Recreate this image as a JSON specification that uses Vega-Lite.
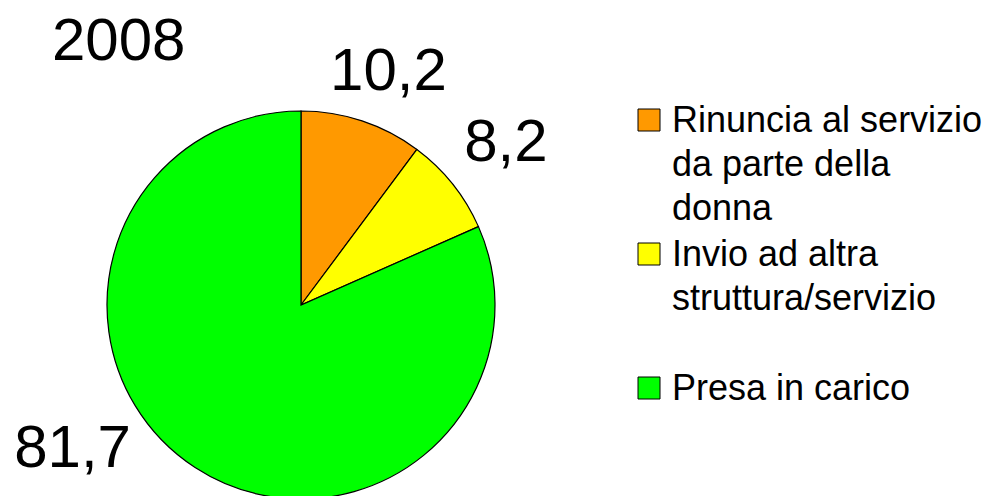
{
  "$schema": "https://vega.github.io/schema/vega-lite/v6.json",
  "width": 602,
  "height": 382,
  "autosize": {"type": "none"},
  "padding": {"left": 0, "top": 114, "right": 389, "bottom": 0},
  "background": "white",
  "title": {"text": "2008", "anchor": "start", "frame": "group", "font": "Liberation Sans", "fontSize": 60, "fontWeight": "normal", "color": "black", "baseline": "alphabetic", "offset": -92, "dx": 52},
  "data": {"values": [
    {"categoria": "Rinuncia al servizio da parte della donna", "valore": 10.2, "etichetta": "10,2", "ordine": 1},
    {"categoria": "Invio ad altra struttura/servizio", "valore": 8.2, "etichetta": "8,2", "ordine": 2},
    {"categoria": "Presa in carico", "valore": 81.7, "etichetta": "81,7", "ordine": 3}
  ]},
  "encoding": {
    "theta": {"field": "valore", "type": "quantitative", "stack": true},
    "order": {"field": "ordine", "type": "quantitative"}
  },
  "layer": [
    {
      "mark": {"type": "arc", "outerRadius": 194, "stroke": "black", "strokeWidth": 1.2},
      "encoding": {
        "color": {
          "field": "categoria", "type": "nominal",
          "scale": {"domain": ["Rinuncia al servizio da parte della donna", "Invio ad altra struttura/servizio", "Presa in carico"], "range": ["#FF9900", "#FFFF00", "#00FF00"]},
          "legend": {
            "orient": "none", "legendX": 631, "legendY": -12, "title": null,
            "symbolType": "square", "symbolSize": 484, "symbolStrokeColor": "black", "symbolStrokeWidth": 1, "symbolOpacity": 1,
            "labelFont": "Liberation Sans", "labelFontSize": 36, "labelColor": "black", "labelLimit": 0, "labelOffset": 5, "labelBaseline": "top",
            "rowPadding": 9, "padding": 0,
            "labelExpr": "datum.label == 'Rinuncia al servizio da parte della donna' ? ['Rinuncia al servizio', 'da parte della', 'donna'] : datum.label == 'Invio ad altra struttura/servizio' ? ['Invio ad altra', 'struttura/servizio', ''] : datum.label",
            "encode": {"labels": {"update": {"lineHeight": {"value": 44}, "dy": {"value": -16}}}}
          }
        }
      }
    },
    {
      "mark": {"type": "text", "radius": 249, "thetaOffset": 0.039, "font": "Liberation Sans", "fontSize": 60, "color": "black", "align": "center", "baseline": "middle"},
      "encoding": {"detail": {"field": "categoria"}, "text": {"condition": {"test": "datum.ordine == 1", "field": "etichetta"}, "value": ""}}
    },
    {
      "mark": {"type": "text", "radius": 261, "thetaOffset": 0.005, "font": "Liberation Sans", "fontSize": 60, "color": "black", "align": "center", "baseline": "middle"},
      "encoding": {"detail": {"field": "categoria"}, "text": {"condition": {"test": "datum.ordine == 2", "field": "etichetta"}, "value": ""}}
    },
    {
      "mark": {"type": "text", "radius": 270, "thetaOffset": 0.431, "font": "Liberation Sans", "fontSize": 60, "color": "black", "align": "center", "baseline": "middle"},
      "encoding": {"detail": {"field": "categoria"}, "text": {"condition": {"test": "datum.ordine == 3", "field": "etichetta"}, "value": ""}}
    }
  ]
}
